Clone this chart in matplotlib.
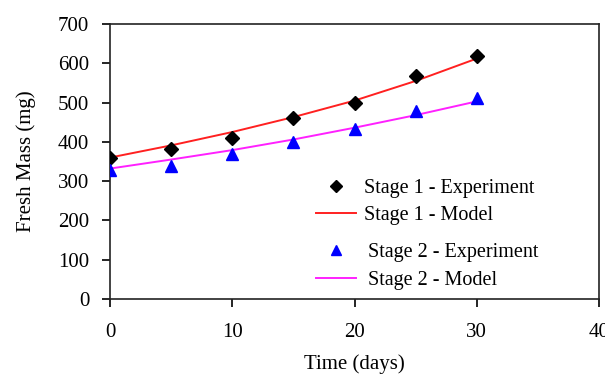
import matplotlib
matplotlib.use('Agg')
import matplotlib.pyplot as plt
from matplotlib.lines import Line2D

days = [0, 5, 10, 15, 20, 25, 30]
stage1_exp = [358, 381, 409, 460, 500, 568, 619]
stage2_exp = [328, 338, 369, 400, 432, 478, 511]
stage1_model = [360, 391, 425, 463, 505, 555, 612]
stage2_model = [332, 355, 379, 406, 436, 468, 503]

plt.rcParams['font.family'] = ['Liberation Serif', 'DejaVu Serif']

fig = plt.figure(figsize=(6.05, 3.76), dpi=100)
ax = fig.add_axes([110 / 605, 1 - 299 / 376, 489 / 605, 275 / 376])

ax.plot(days, stage1_model, color='#ff2020', lw=1.4, zorder=2)
ax.plot(days, stage2_model, color='#ff20ff', lw=1.4, zorder=2)
ax.plot(days, stage1_exp, ls='none', marker='D', ms=7, color='black', zorder=3)
ax.plot(days, stage2_exp, ls='none', marker='^', ms=8, color='#0000ff', zorder=3)

ax.set_xlim(0, 40)
ax.set_ylim(0, 700)
ax.set_xticks([0, 10, 20, 30, 40])
ax.set_yticks(range(0, 701, 100))
ax.tick_params(direction='out', length=6, width=1.2, labelsize=15,
               right=False, top=False)
ax.tick_params(axis='x', pad=11)
ax.tick_params(axis='y', pad=9)
for s in ax.spines.values():
    s.set_linewidth(1.2)
    s.set_color('#222222')

ax.set_xlabel('Time (days)', fontsize=15)
ax.set_ylabel('Fresh Mass (mg)', fontsize=15)
ax.xaxis.set_label_coords(0.5, -0.2)
ax.yaxis.set_label_coords(-0.152, 0.5)

h1 = [Line2D([], [], ls='none', marker='D', ms=6.5, color='black'),
      Line2D([], [], color='#ff2020', lw=1.4)]
h2 = [Line2D([], [], ls='none', marker='^', ms=7.5, color='#0000ff'),
      Line2D([], [], color='#ff20ff', lw=1.4)]
leg1 = ax.legend(h1, ['Stage 1 - Experiment', 'Stage 1 - Model'],
                 loc='upper left', bbox_to_anchor=(0.421, 0.435), frameon=False,
                 fontsize=14.5, handlelength=2.0, handletextpad=0.4,
                 labelspacing=0.35, borderaxespad=0, borderpad=0)
ax.add_artist(leg1)
ax.legend(h2, ['Stage 2 - Experiment', 'Stage 2 - Model'],
          loc='upper left', bbox_to_anchor=(0.421, 0.205), frameon=False,
          fontsize=14.5, handlelength=2.0, handletextpad=0.6,
          labelspacing=0.45, borderaxespad=0, borderpad=0)

fig.savefig('out.png', dpi=100)
